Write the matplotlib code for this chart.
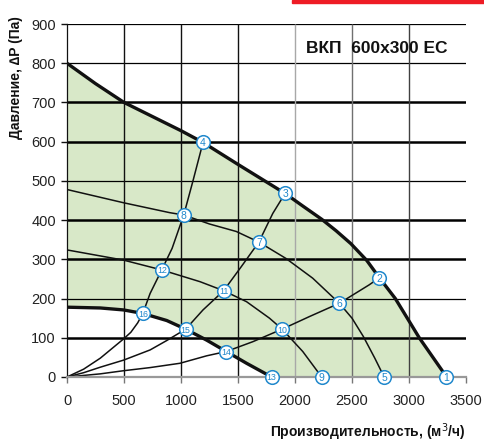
import matplotlib
matplotlib.use("Agg")
import matplotlib.pyplot as plt
from matplotlib.patches import Rectangle

# ---- data ----
max_x = [0, 250, 500, 750, 1000, 1193, 1500, 1913, 2068, 2235, 2360, 2490, 2630, 2740, 2880, 3090, 3330]
max_y = [800, 748, 700, 664, 628, 598, 542, 468, 436, 402, 373, 340, 297, 253, 200, 100, 0]

min_x = [0, 292, 496, 665, 875, 1041, 1225, 1397, 1575, 1795]
min_y = [178, 176, 171, 162, 144, 122, 94, 65, 35, 0]

c5_x = [0, 500, 901, 1024, 1251, 1485, 1683, 1922, 2155, 2389, 2500, 2600, 2700, 2782]
c5_y = [478, 444, 419, 413, 390, 371, 344, 302, 252, 188, 150, 103, 48, 0]

c9_x = [0, 496, 831, 1167, 1374, 1575, 1776, 1887, 2068, 2234]
c9_y = [324, 298, 273, 243, 220, 192, 150, 122, 65, 0]

ca_x = [0, 146, 292, 496, 560, 620, 665, 729, 831, 922, 1024, 1105, 1193]
ca_y = [0, 20, 48, 97, 114, 138, 162, 213, 273, 328, 413, 500, 598]

cb_x = [0, 146, 292, 496, 729, 875, 1041, 1193, 1374, 1528, 1683, 1805, 1913]
cb_y = [0, 11, 25, 43, 69, 93, 122, 171, 220, 281, 344, 417, 468]

cc_x = [0, 292, 496, 729, 991, 1225, 1397, 1630, 1887, 2126, 2389, 2651, 2740]
cc_y = [0, 8, 16, 24, 35, 54, 65, 90, 122, 154, 188, 235, 253]

pt_labels = ["1", "2", "3", "4", "5", "6", "7", "8", "9", "10", "11", "12", "13", "14", "15", "16"]
pt_x = [3325, 2740, 1913, 1193, 2782, 2389, 1683, 1024, 2234, 1887, 1374, 831, 1795, 1397, 1041, 665]
pt_y = [0, 253, 468, 598, 0, 188, 344, 413, 0, 122, 220, 273, 0, 65, 122, 162]

x_ticks = [0, 500, 1000, 1500, 2000, 2500, 3000, 3500]
y_ticks = [0, 100, 200, 300, 400, 500, 600, 700, 800, 900]

title = "ВКП  600x300 EC"
x_label = "Производительность, (м$^3$/ч)"
y_label = "Давление, ∆P (Па)"

# ---- figure ----
fig = plt.figure(figsize=(4.84, 4.43), dpi=100)
ax = fig.add_axes([67/484, 66/443, 399/484, 353/443])
ax.set_xlim(0, 3500)
ax.set_ylim(0, 900)

green = "#d8e8c8"
fx = list(max_x) + [min_x[-1]] + list(min_x[::-1])
fy = list(max_y) + [0] + list(min_y[::-1])
ax.fill(fx, fy, color=green, zorder=0.5, lw=0)

# grid lines
h_styles = {100: 1.8, 200: 0.9, 300: 1.8, 400: 1.8, 500: 0.9, 600: 1.8, 700: 1.8, 800: 0.9, 900: 0.9}
for yv in y_ticks[1:]:
    ax.plot([0, 3500], [yv, yv], color="black", lw=h_styles[yv], zorder=1, solid_capstyle="butt")
v_colors = {500: "#111111", 1000: "#111111", 1500: "#111111", 2000: "#a8a8a8", 2500: "#707070", 3000: "#404040"}
for xv in x_ticks[1:-1]:
    ax.plot([xv, xv], [0, 900], color=v_colors[xv], lw=1.0, zorder=1, solid_capstyle="butt")

# curves
ax.plot(max_x, max_y, color="#111111", lw=2.4, zorder=2, solid_capstyle="round", solid_joinstyle="round")
ax.plot(min_x, min_y, color="#111111", lw=2.4, zorder=2, solid_capstyle="round", solid_joinstyle="round")
for xs, ys in [(c5_x, c5_y), (c9_x, c9_y), (ca_x, ca_y), (cb_x, cb_y), (cc_x, cc_y)]:
    ax.plot(xs, ys, color="#111111", lw=1.1, zorder=2, solid_joinstyle="round")

# markers
blue = "#2088cc"
ax.plot(pt_x, pt_y, "o", ms=9.8, mfc="white", mec=blue, mew=1.1, zorder=3, clip_on=False, ls="none")
for lab, x, y in zip(pt_labels, pt_x, pt_y):
    ax.text(x, y, lab, color=blue, fontsize=7.5 if len(lab) == 1 else 6.3,
            ha="center", va="center_baseline", zorder=4,
            fontfamily="Liberation Sans")

# axes styling
for s in ["top", "right"]:
    ax.spines[s].set_visible(False)
ax.spines["left"].set_color("#111111")
ax.spines["left"].set_linewidth(0.9)
ax.spines["bottom"].set_color("#999999")
ax.spines["bottom"].set_linewidth(1.6)
ax.set_xticks(x_ticks)
ax.set_yticks(y_ticks)
ax.tick_params(axis="x", direction="out", length=4, color="#777777", width=1,
               labelcolor="#222222", pad=8)
ax.tick_params(axis="y", direction="out", length=4, color="#111111", width=1,
               labelcolor="#222222", pad=4)
for lbl in ax.get_xticklabels() + ax.get_yticklabels():
    lbl.set_fontfamily("Liberation Sans")
    lbl.set_fontsize(10.5)

ax.text(2720, 838, title, fontsize=12.5, fontweight="bold", ha="center", va="center",
        fontfamily="Liberation Sans", color="#111111", zorder=5)

fig.text(466/484, 1 - 432/443, x_label, ha="right", va="center", fontsize=10,
         fontweight="bold", fontfamily="Liberation Sans", color="#111111")
fig.text(16/484, 1 - 78/443, y_label, ha="center", va="center", rotation=90, fontsize=10,
         fontweight="bold", fontfamily="Liberation Sans", color="#111111")

# red bar at top
fig.patches.append(Rectangle((292/484, 1 - 3/443), 192/484, 3/443, transform=fig.transFigure,
                             color="#ee1c25", zorder=10))

fig.savefig("out.png", dpi=100, facecolor="white")
